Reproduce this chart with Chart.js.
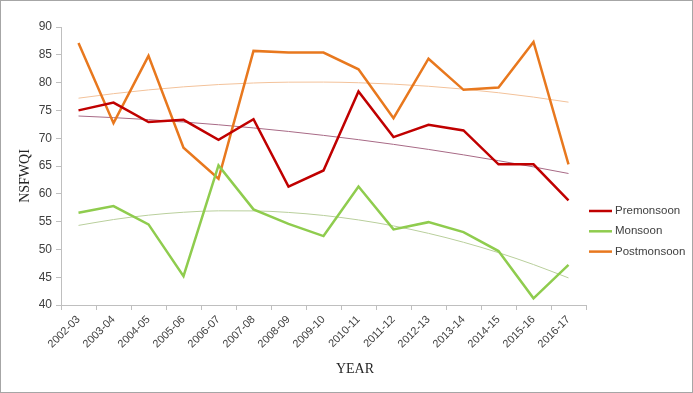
<!DOCTYPE html>
<html>
<head>
<meta charset="utf-8">
<script src="https://cdn.jsdelivr.net/npm/chart.js@4.4.1/dist/chart.umd.min.js"></script>
<style>
  html, body { margin: 0; padding: 0; background: #fff; }
  #wrap { width: 693px; height: 393px; }
</style>
</head>
<body>
<div id="wrap"><canvas id="chart" width="693" height="393"></canvas></div>
<script>
const years = ['2002-03', '2003-04', '2004-05', '2005-06', '2006-07', '2007-08', '2008-09', '2009-10',
  '2010-11', '2011-12', '2012-13', '2013-14', '2014-15', '2015-16', '2016-17'];
const premonsoon = [75.0, 76.4, 72.9, 73.3, 69.7, 73.4, 61.3, 64.2, 78.4, 70.2, 72.4, 71.4, 65.3, 65.3, 58.8];
const monsoon = [56.6, 57.8, 54.5, 45.2, 65.1, 57.2, 54.6, 52.4, 61.3, 53.6, 54.9, 53.1, 49.7, 41.2, 47.2];
const postmonsoon = [87.1, 72.7, 84.8, 68.3, 62.7, 85.7, 85.4, 85.4, 82.4, 73.6, 84.3, 78.7, 79.1, 87.3, 65.3];
const yTicks = [40, 45, 50, 55, 60, 65, 70, 75, 80, 85, 90];

const tickFont = 'Liberation Sans';
const titleFont = 'Liberation Serif';

// polynomial (order 2) trendline, least squares like Excel
function polyTrend(vals) {
  let n = vals.length, sx = 0, sx2 = 0, sx3 = 0, sx4 = 0, sy = 0, sxy = 0, sx2y = 0;
  vals.forEach((y, i) => {
    let x = i + 1;
    sx += x; sx2 += x * x; sx3 += x ** 3; sx4 += x ** 4;
    sy += y; sxy += x * y; sx2y += x * x * y;
  });
  // solve 3x3 normal equations
  let m = [[n, sx, sx2, sy], [sx, sx2, sx3, sxy], [sx2, sx3, sx4, sx2y]];
  for (let c = 0; c < 3; c++) {
    for (let r = c + 1; r < 3; r++) {
      let f = m[r][c] / m[c][c];
      for (let k = c; k < 4; k++) m[r][k] -= f * m[c][k];
    }
  }
  let coef = [0, 0, 0];
  for (let r = 2; r >= 0; r--) {
    let s = m[r][3];
    for (let k = r + 1; k < 3; k++) s -= m[r][k] * coef[k];
    coef[r] = s / m[r][r];
  }
  return vals.map((_, i) => coef[0] + coef[1] * (i + 1) + coef[2] * (i + 1) ** 2);
}

const series = [
  { label: 'Premonsoon', data: premonsoon, color: '#c00000', trend: '#a86a86' },
  { label: 'Monsoon', data: monsoon, color: '#8fcc4e', trend: '#b9cf9c' },
  { label: 'Postmonsoon', data: postmonsoon, color: '#e8781e', trend: '#f3c29a' }
];

const datasets = [];
series.forEach(s => {
  datasets.push({
    label: s.label, data: s.data, borderColor: s.color, backgroundColor: s.color,
    borderWidth: 2.5, pointRadius: 0, tension: 0, order: 1
  });
});
series.forEach(s => {
  datasets.push({
    label: s.label + ' trend', data: polyTrend(s.data), borderColor: s.trend,
    borderWidth: 1, pointRadius: 0, cubicInterpolationMode: 'monotone', order: 2
  });
});

// axis titles, legend and outer frame drawn by hand to match the Excel layout
const extras = {
  id: 'extras',
  afterDraw(chart) {
    const ctx = chart.ctx;
    ctx.save();
    ctx.strokeStyle = '#a6a6a6';
    ctx.lineWidth = 1;
    ctx.strokeRect(0.5, 0.5, chart.width - 1, chart.height - 1);

    ctx.fillStyle = '#262626';
    ctx.font = '14px "' + titleFont + '"';
    ctx.textAlign = 'center';
    ctx.textBaseline = 'middle';
    ctx.fillText('YEAR', 355, 369);
    ctx.translate(25, 176);
    ctx.rotate(-Math.PI / 2);
    ctx.fillText('NSFWQI', 0, 0);
    ctx.restore();

    ctx.save();
    ctx.font = '11.5px "' + tickFont + '"';
    ctx.textBaseline = 'middle';
    ctx.textAlign = 'left';
    series.forEach((s, i) => {
      let y = 211 + i * 20.3;
      ctx.strokeStyle = s.color;
      ctx.lineWidth = 2.5;
      ctx.beginPath();
      ctx.moveTo(589, y);
      ctx.lineTo(612, y);
      ctx.stroke();
      ctx.fillStyle = '#404040';
      ctx.fillText(s.label, 615, y);
    });
    ctx.restore();
  }
};

new Chart(document.getElementById('chart').getContext('2d'), {
  type: 'line',
  data: { labels: years, datasets: datasets },
  options: {
    responsive: false,
    animation: false,
    layout: { padding: { left: 16, right: 107, top: 27, bottom: 28 } },
    plugins: { legend: { display: false }, tooltip: { enabled: false } },
    scales: {
      x: {
        offset: true,
        grid: { offset: true, drawOnChartArea: false, drawTicks: true, tickLength: 5, color: '#bfbfbf' },
        border: { color: '#bfbfbf' },
        ticks: {
          autoSkip: false, maxRotation: 45, minRotation: 45, color: '#404040',
          font: { family: tickFont, size: 11 }, padding: 3
        },
        afterFit: scale => { scale.height = 60; }
      },
      y: {
        min: 40, max: 90,
        afterBuildTicks: scale => { scale.ticks = yTicks.map(v => ({ value: v })); },
        grid: { drawOnChartArea: false, drawTicks: true, tickLength: 5, color: '#bfbfbf' },
        border: { color: '#bfbfbf' },
        ticks: { color: '#404040', font: { family: tickFont, size: 12 }, padding: 4 },
        afterFit: scale => { scale.width = 45; }
      }
    }
  },
  plugins: [extras]
});
</script>
</body>
</html>
